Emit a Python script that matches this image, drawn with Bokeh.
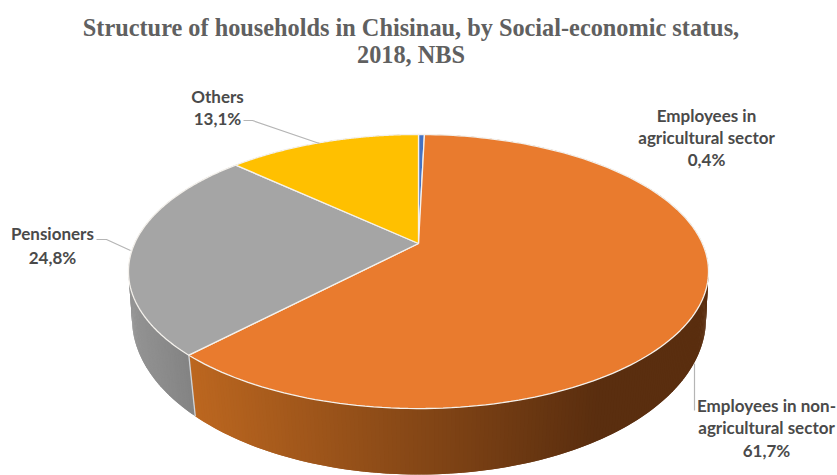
import numpy as np
from bokeh.core.properties import value
from bokeh.embed import file_html
from bokeh.models import ColumnDataSource
from bokeh.plotting import figure
from bokeh.resources import INLINE

# Share of households by status, clockwise from twelve o'clock
categories = ["Employees in agricultural sector", "Employees in non-agricultural sector", "Pensioners", "Others"]
shares = [0.4, 61.7, 24.8, 13.1]
share_labels = ["0,4%", "61,7%", "24,8%", "13,1%"]
top_colors = ["#4472C4", "#E97B2E", "#A5A5A5", "#FFC000"]
side_left = ["#3A5F9F", "#BC6720", "#949494", "#C89600"]
side_right = ["#2A4575", "#5A2E0F", "#828282", "#A07800"]
side_span = [(400, 440), (190, 600), (130, 195), (230, 420)]

TITLE_LINES = ["Structure of households in Chisinau, by Social-economic status,", "2018, NBS"]


def project(theta, cx, cy, a, b, k):
    """Map a circle angle (clockwise from the top) through the tilted-disc perspective."""
    ux, uy = np.sin(theta), np.cos(theta)
    d = 1 + k * uy
    return cx + a * ux / d, cy - b * uy / d


TOP = dict(cx=418.0, cy=243.0, a=283.9, b=131.3, k=0.2044)
BASE = dict(cx=418.5, cy=290.0, a=282.3, b=150.9, k=0.18)

p = figure(width=837, height=475, x_range=(0, 837), y_range=(475, 0),
           output_backend="svg", toolbar_location=None, min_border=0,
           outline_line_color=None, background_fill_color="white", border_fill_color="white")
p.axis.visible = False
p.grid.visible = False

edges = np.concatenate([[0.0], np.cumsum(shares)]) / sum(shares) * 2 * np.pi

# Rim of the disc, shaded across each slice in overlapping facets
xs, ys, cols = [], [], []
for i in range(len(shares)):
    n = max(2, int((edges[i + 1] - edges[i]) / 0.012))
    t = np.linspace(edges[i], edges[i + 1], n + 1)
    xt, yt = project(t, **TOP)
    xb, yb = project(t, **BASE)
    c0 = np.array([int(side_left[i][j:j + 2], 16) for j in (1, 3, 5)], float)
    c1 = np.array([int(side_right[i][j:j + 2], 16) for j in (1, 3, 5)], float)
    lo, hi = side_span[i]
    for j in range(n):
        e = min(j + 2, n)
        f = np.clip((0.5 * (xt[j] + xt[j + 1]) - lo) / (hi - lo), 0, 1)
        rgb = (c0 + (c1 - c0) * f).astype(int)
        xs.append([xt[j], xt[e], xb[e], xb[j]])
        ys.append([yt[j], yt[e], yb[e], yb[j]])
        cols.append("#%02X%02X%02X" % tuple(rgb))
p.patches(xs="xs", ys="ys", fill_color="cols", line_color=None,
          source=ColumnDataSource(dict(xs=xs, ys=ys, cols=cols)))

# Seam between the orange and grey rim
seam = edges[2]
sx0, sy0 = project(seam, **TOP)
sx1, sy1 = project(seam, **BASE)
p.line([sx0, sx1], [sy0, sy1], line_color="#D0D4D8", line_width=1.3)

# Upper faces of the slices
fx, fy = [], []
for i in range(len(shares)):
    t = np.linspace(edges[i], edges[i + 1], 160)
    xr, yr = project(t, **TOP)
    fx.append(np.concatenate([[TOP["cx"]], xr]).tolist())
    fy.append(np.concatenate([[TOP["cy"]], yr]).tolist())
p.patches(fx, fy, fill_color=top_colors, line_color="#F4F1EC", line_width=1.3)

# Leader lines
leaders = [([243, 252, 319], [120, 120, 143]), ([96, 106, 130], [239, 239, 250]), ([694, 694], [363, 410])]
for lx, ly in leaders:
    p.line(lx, ly, line_color="#B5B5B5", line_width=1.2)

# Title
p.text([410.5, 410.5], [27, 54], text=TITLE_LINES, text_font=value("Liberation Serif"),
       text_font_style="bold", text_font_size="24.3px", text_color="#606060",
       text_align="center", text_baseline="middle")

# Slice labels
lab_x = [706, 706, 706, 217, 217, 52, 52, 766, 766, 766]
lab_y = [115, 137, 159, 96, 118, 233, 257, 405, 427, 450]
lab_t = ["Employees in", "agricultural sector", share_labels[0],
         categories[3], share_labels[3],
         categories[2], share_labels[2],
         "Employees in non-", "agricultural sector", share_labels[1]]
p.text(lab_x, lab_y, text=lab_t, text_font=value("Lato"), text_font_style="bold",
       text_font_size="17px", text_color="#4A4A4A", text_align="center", text_baseline="middle")

open("out.html", "w").write(file_html(p, INLINE))
